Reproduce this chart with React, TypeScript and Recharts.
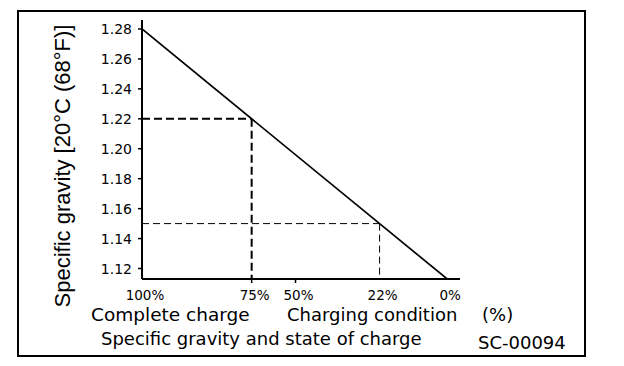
import { LineChart, Line, XAxis, YAxis, ReferenceLine } from 'recharts';

// state of charge and the specific gravity it sits at on the curve
const chargeLabels = ['100%', '75%', '50%', '22%', '0%'];
const chargeGravity = [1.28, 1.22, 1.196, 1.15, 1.113];
const gravityTicks = [1.12, 1.14, 1.16, 1.18, 1.2, 1.22, 1.24, 1.26, 1.28];

// readings shown with dashed guides: [charge, bold?]
const guideCharges = ['75%', '22%'];
const guideBold = [true, false];

const X_DOMAIN: [number, number] = [1.106, 1.28];
const Y_DOMAIN: [number, number] = [1.113, 1.286];

const FONT = '"DejaVu Sans", Arial, sans-serif';

const lineData = [
  { sg: chargeGravity[0], value: chargeGravity[0] },
  { sg: chargeGravity[chargeGravity.length - 1], value: chargeGravity[chargeGravity.length - 1] },
];

const XTick = (props: any) => {
  const { x, y, payload } = props;
  const i = chargeGravity.indexOf(payload.value);
  const showLine = i === 1 || i === 2;
  return (
    <g>
      {showLine && <line x1={x} y1={y} x2={x} y2={y + 4} stroke="#000" strokeWidth={1.5} />}
      <text x={x + 3} y={y + 21} textAnchor="middle" fontFamily={FONT} fontSize={13.5} fill="#000">
        {chargeLabels[i]}
      </text>
    </g>
  );
};

const YTick = (props: any) => {
  const { x, y, payload } = props;
  return (
    <text x={x - 6} y={y + 5} textAnchor="end" fontFamily={FONT} fontSize={14} fill="#000">
      {payload.value.toFixed(2)}
    </text>
  );
};

export default function App() {
  return (
    <div style={{ position: 'absolute', left: 0, top: 0, width: 624, height: 366, background: '#fff' }}>
      <LineChart
        width={624}
        height={366}
        data={lineData}
        margin={{ top: 20, right: 164, left: 0, bottom: 57 }}
      >
        <XAxis
          dataKey="sg"
          type="number"
          domain={X_DOMAIN}
          reversed
          allowDataOverflow
          ticks={chargeGravity}
          interval={0}
          height={30}
          tickSize={0}
          tickMargin={0}
          tickLine={false}
          axisLine={{ stroke: '#000', strokeWidth: 2 }}
          tick={<XTick />}
        />
        <YAxis
          type="number"
          domain={Y_DOMAIN}
          allowDataOverflow
          ticks={gravityTicks}
          interval={0}
          width={142}
          tickSize={4}
          tickMargin={0}
          tickLine={{ stroke: '#000', strokeWidth: 1.5 }}
          axisLine={{ stroke: '#000', strokeWidth: 2 }}
          tick={<YTick />}
        />
        {guideCharges.map((c, k) => {
          const g = chargeGravity[chargeLabels.indexOf(c)];
          const w = guideBold[k] ? 2 : 1;
          const dash = guideBold[k] ? '8 4' : '7 4';
          return [
            <ReferenceLine
              key={c + 'h'}
              segment={[{ x: X_DOMAIN[1], y: g }, { x: g, y: g }]}
              stroke="#000"
              strokeWidth={w}
              strokeDasharray={dash}
              ifOverflow="visible"
            />,
            <ReferenceLine
              key={c + 'v'}
              segment={[{ x: g, y: g }, { x: g, y: Y_DOMAIN[0] }]}
              stroke="#000"
              strokeWidth={w}
              strokeDasharray={dash}
              ifOverflow="visible"
            />,
          ];
        })}
        <Line
          type="linear"
          dataKey="value"
          stroke="#000"
          strokeWidth={1.7}
          dot={false}
          isAnimationActive={false}
        />
      </LineChart>

      <svg
        width={624}
        height={366}
        style={{ position: 'absolute', left: 0, top: 0, pointerEvents: 'none' }}
      >
        <text
          transform="translate(70,166) rotate(-90)"
          textAnchor="middle"
          fontFamily='"Liberation Sans", Arial, sans-serif'
          fontSize={22}
          fill="#000"
        >
          Specific gravity [20°C (68°F)]
        </text>
        <text x={91} y={321} fontFamily={FONT} fontSize={18.5} fill="#000">Complete charge</text>
        <text x={287} y={321} fontFamily={FONT} fontSize={18} fill="#000">Charging condition</text>
        <text x={482} y={321} fontFamily={FONT} fontSize={18} fill="#000">(%)</text>
        <text x={101} y={345} fontFamily={FONT} fontSize={18} fill="#000">Specific gravity and state of charge</text>
        <text x={478} y={349} fontFamily={FONT} fontSize={18} fill="#000">SC-00094</text>
      </svg>

      <div
        style={{
          position: 'absolute',
          left: 17,
          top: 10,
          width: 569,
          height: 347,
          border: '2px solid #000',
          boxSizing: 'border-box',
        }}
      />
    </div>
  );
}
